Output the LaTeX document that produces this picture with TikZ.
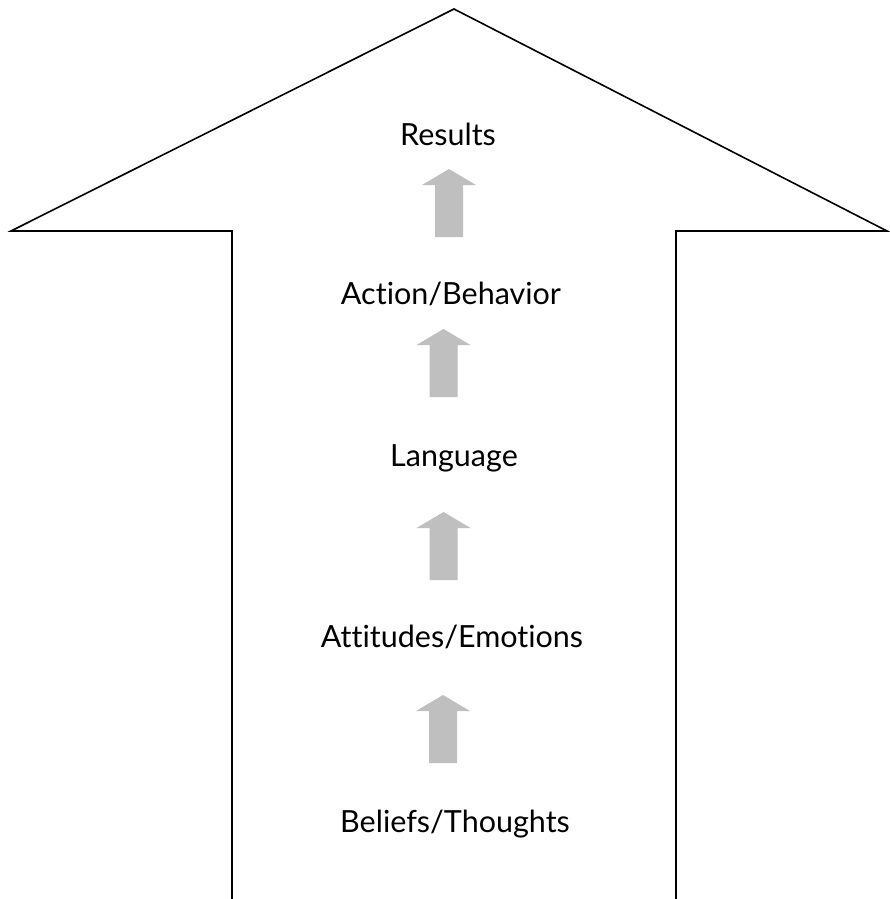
\documentclass[tikz,border=0pt]{standalone}
\usepackage{fontspec}
\setmainfont[Ligatures=NoCommon]{Lato}
\begin{document}
\begin{tikzpicture}[x=1pt,y=-1pt,
  outline/.style={draw=black,line width=1.6pt,line join=miter},
  lbl/.style={anchor=base,inner sep=0pt,font=\fontsize{30.5}{34}\selectfont},
  pics/uparrow/.style={code={
    \fill[fill=arrowgray] (-14,68) -- (-14,16) -- (-27,16) -- (0,0) -- (27,16) -- (14,16) -- (14,68) -- cycle;
  }}]
\definecolor{arrowgray}{RGB}{191,191,191}
\useasboundingbox (0,0) rectangle (889,899);
\draw[outline] (232,899) -- (232,231) -- (11,231) -- (454,9) -- (887,231) -- (676,231) -- (676,899);
\node[lbl] (results) at (448,145) {Results};
\node[lbl] (action) at (451,304) {Action/Behavior};
\node[lbl] (language) at (454,466) {Language};
\node[lbl] (attitudes) at (452,647) {Attitudes/Emotions};
\node[lbl] (beliefs) at (455,832) {Beliefs/Thoughts};
\pic at (449,169) {uparrow};
\pic at (443.5,329) {uparrow};
\pic at (443.5,512) {uparrow};
\pic at (443,695) {uparrow};
\end{tikzpicture}
\end{document}
